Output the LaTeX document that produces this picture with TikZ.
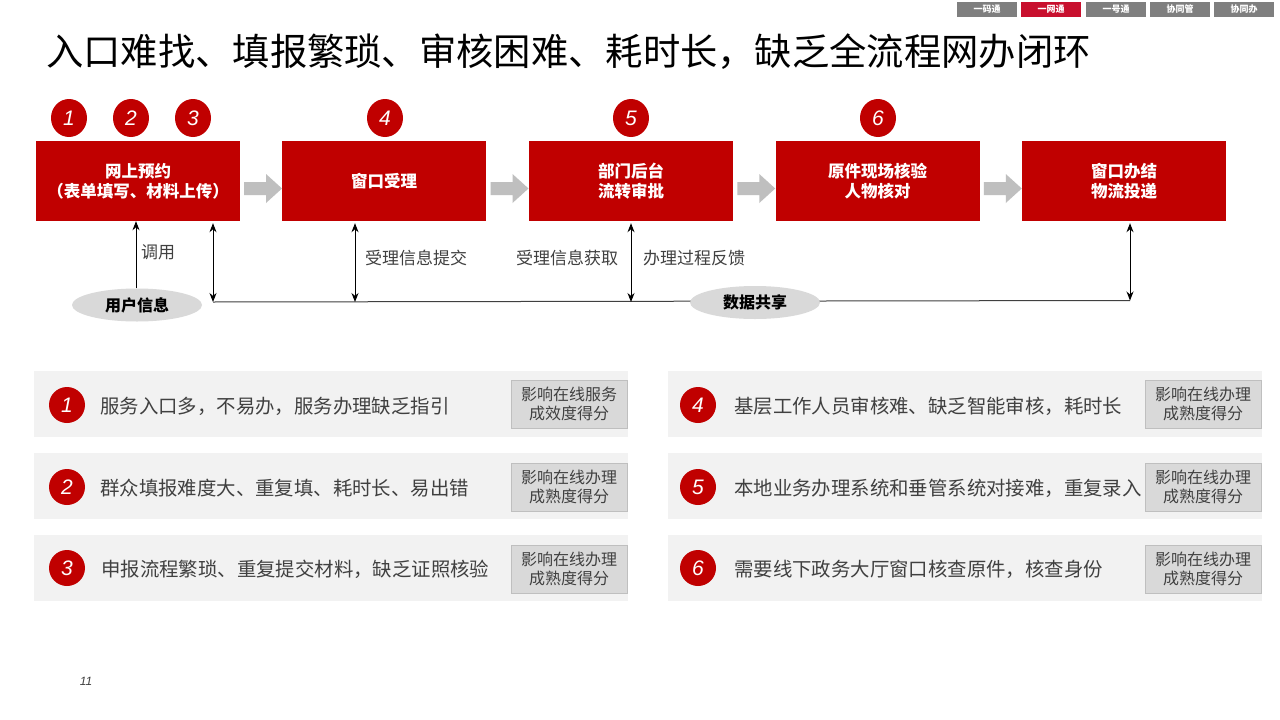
\documentclass[tikz,border=0pt]{standalone}
\usepackage{fontspec}
\setmainfont{Noto Sans CJK SC}
\newfontfamily\numfont{Liberation Sans}
\usetikzlibrary{arrows.meta,calc,shapes.geometric}
\definecolor{mainred}{HTML}{C00000}
\definecolor{tabred}{HTML}{C8102E}
\definecolor{tabgray}{HTML}{7F7F7F}
\definecolor{arrowgray}{HTML}{BFBFBF}
\definecolor{panelgray}{HTML}{F2F2F2}
\definecolor{boxgray}{HTML}{D9D9D9}
\definecolor{txtgray}{HTML}{404040}
\tikzset{
  tab/.style={minimum width=60pt,minimum height=15pt,inner sep=0pt,text=white,font=\fontsize{9}{10}\selectfont\bfseries},
  stagebox/.style={fill=mainred,minimum width=204pt,minimum height=80pt,inner sep=0pt,text=white,align=center,font=\fontsize{16.5}{20}\selectfont\bfseries},
  numcirc/.style={ellipse,fill=mainred,minimum width=36pt,minimum height=38pt,inner sep=0pt,text=white,font=\numfont\fontsize{21}{22}\selectfont\itshape},
  infoell/.style={ellipse,fill=boxgray,minimum width=130pt,minimum height=33pt,inner sep=0pt,font=\fontsize{16}{18}\selectfont\bfseries},
  lbl/.style={text=txtgray,font=\fontsize{17}{19}\selectfont,inner sep=0pt},
  panel/.style={fill=panelgray,minimum width=594pt,minimum height=66pt,inner sep=0pt},
  pcirc/.style={circle,fill=mainred,minimum size=36pt,inner sep=0pt,text=white,font=\numfont\fontsize{21}{22}\selectfont\itshape},
  ptext/.style={anchor=west,text=txtgray,font=\fontsize{19.4}{21}\selectfont,inner sep=0pt},
  impact/.style={fill=boxgray,draw=arrowgray,line width=0.8pt,minimum width=116pt,minimum height=48pt,inner sep=0pt,align=center,text=txtgray,font=\fontsize{16}{19}\selectfont},
  link/.style={line width=1pt,black},
  tip/.style={-{Stealth[length=9pt,width=7pt]}},
  bitip/.style={{Stealth[length=9pt,width=7pt]}-{Stealth[length=9pt,width=7pt]}}
}
\begin{document}
\begin{tikzpicture}[x=1pt,y=-1pt]
\useasboundingbox (0,0) rectangle (1280,720);
\fill[white] (0,0) rectangle (1280,720);

% tabs
\node[tab,fill=tabgray] (t1) at (987,9.5) {一码通};
\node[tab,fill=tabred]  (t2) at (1051,9.5) {一网通};
\node[tab,fill=tabgray] (t3) at (1116,9.5) {一号通};
\node[tab,fill=tabgray] (t4) at (1180,9.5) {协同管};
\node[tab,fill=tabgray] (t5) at (1244,9.5) {协同办};

% title
\node[anchor=west,inner sep=0pt,font=\fontsize{37.3}{40}\selectfont] (title) at (46,52) {入口难找、填报繁琐、审核困难、耗时长，缺乏全流程网办闭环};

% stage boxes
\node[stagebox] (b1) at (138,181) {网上预约\\（表单填写、材料上传）};
\node[stagebox] (b2) at (384,181) {窗口受理};
\node[stagebox] (b3) at (631,181) {部门后台\\流转审批};
\node[stagebox] (b4) at (877.5,181) {原件现场核验\\人物核对};
\node[stagebox] (b5) at (1124,181) {窗口办结\\物流投递};

% gray block arrows
\foreach \a/\b in {b1/b2,b2/b3,b3/b4,b4/b5}{
  \fill[arrowgray,shift={($(\a.east)!0.5!(\b.west)+(0,7.5)$)}]
    (-17,-6.5) -- (5,-6.5) -- (5,-14.5) -- (21,0) -- (5,14.5) -- (5,6.5) -- (-17,6.5) -- cycle;
}

% number circles
\node[numcirc] (c1) at (69,118) {1};
\node[numcirc] (c2) at (131,118) {2};
\node[numcirc] (c3) at (193,118) {3};
\node[numcirc] (c4) at (385,118) {4};
\node[numcirc] (c5) at (631,118) {5};
\node[numcirc] (c6) at (878,118) {6};

% data sharing line and connectors
\coordinate (j1) at (213,302);
\coordinate (j2) at (355,302);
\coordinate (j3) at (631,302);
\coordinate (j5) at (1130,300.5);
\draw[line width=1pt,black!75] (j1) -- (j5);
\node[infoell] (user) at (137,305) {用户信息};
\node[infoell] (data) at (755,302.5) {数据共享};

\draw[link,tip] (user.north -| 136,0) -- (136,0 |- b1.south);
\draw[link,bitip] (j1 |- b1.south) ++(0,2) -- (j1);
\draw[link,bitip] (j2 |- b2.south) ++(0,2) -- (j2);
\draw[link,bitip] (j3 |- b3.south) ++(0,2) -- (j3);
\draw[link,bitip] (j5 |- b5.south) ++(0,2) -- (j5);

\node[lbl] (l1) at (158,252) {调用};
\node[lbl] (l2) at (416,258) {受理信息提交};
\node[lbl] (l3) at (567,258) {受理信息获取};
\node[lbl] (l4) at (694,258) {办理过程反馈};

% bottom panels
\node[panel] (p1) at (331,404) {};
\node[panel] (p2) at (331,486) {};
\node[panel] (p3) at (331,568) {};
\node[panel] (p4) at (965,404) {};
\node[panel] (p5) at (965,486) {};
\node[panel] (p6) at (965,568) {};

\node[pcirc] (pc1) at (67,405) {1};
\node[pcirc] (pc2) at (67,487) {2};
\node[pcirc] (pc3) at (67,568) {3};
\node[pcirc] (pc4) at (698,405) {4};
\node[pcirc] (pc5) at (698,487) {5};
\node[pcirc] (pc6) at (698,568) {6};

\node[ptext] (pt1) at (100,406) {服务入口多，不易办，服务办理缺乏指引};
\node[ptext] (pt2) at (100,488) {群众填报难度大、重复填、耗时长、易出错};
\node[ptext] (pt3) at (101,569) {申报流程繁琐、重复提交材料，缺乏证照核验};
\node[ptext] (pt4) at (734,406) {基层工作人员审核难、缺乏智能审核，耗时长};
\node[ptext] (pt5) at (734,488) {本地业务办理系统和垂管系统对接难，重复录入};
\node[ptext] (pt6) at (734,569) {需要线下政务大厅窗口核查原件，核查身份};

\node[impact] (i1) at (569,404) {影响在线服务\\成效度得分};
\node[impact] (i2) at (569,487) {影响在线办理\\成熟度得分};
\node[impact] (i3) at (569,569) {影响在线办理\\成熟度得分};
\node[impact] (i4) at (1203,404) {影响在线办理\\成熟度得分};
\node[impact] (i5) at (1203,487) {影响在线办理\\成熟度得分};
\node[impact] (i6) at (1203,569) {影响在线办理\\成熟度得分};

% page number
\node[text=txtgray,font=\numfont\fontsize{12}{13}\selectfont\itshape,inner sep=0pt] (pg) at (86,681) {11};
\end{tikzpicture}
\end{document}
